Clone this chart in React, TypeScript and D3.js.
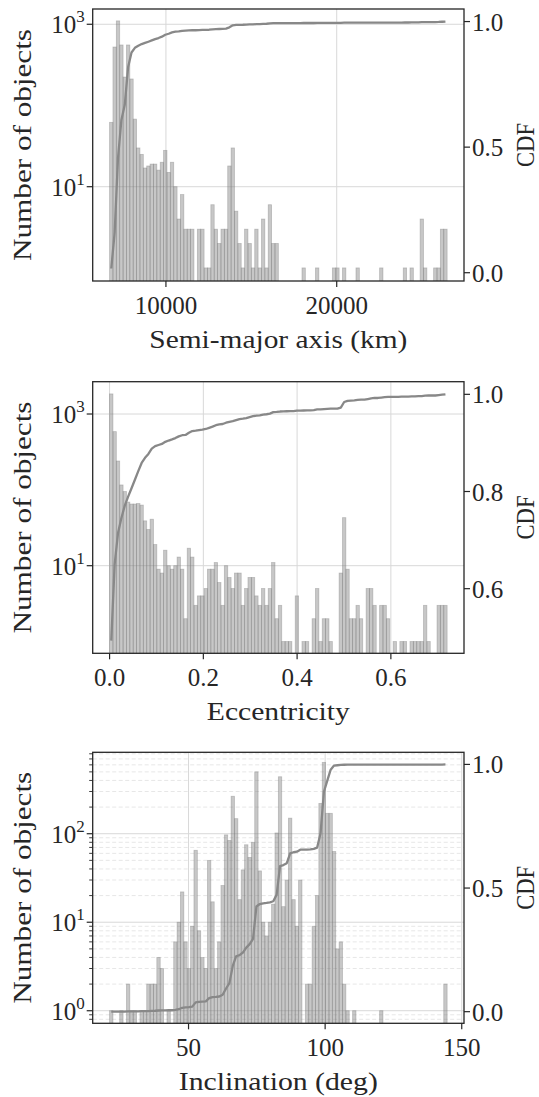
import React from "react";
import * as d3 from "d3";

// ---------- DATA ----------
const semiMajorCounts = [
  62, 525, 1100, 556, 224, 556, 212, 68, 30, 25,
  17, 18, 19, 19, 16, 20, 28, 15, 20, 10,
  4, 8, 3, 3, 3, 0, 3, 3, 1, 1,
  6, 3, 2, 3, 3, 18, 30, 5, 2, 1,
  3, 2, 1, 3, 1, 4, 1, 6, 2, 2,
  0, 0, 0, 0, 0, 0, 0, 1, 0, 0,
  0, 1, 0, 0, 0, 0, 1, 1, 0, 1,
  0, 0, 0, 1, 0, 0, 0, 0, 0, 0,
  1, 0, 0, 0, 0, 0, 0, 1, 0, 1,
  0, 0, 4, 1, 0, 0, 1, 1, 3, 3,
];
const semiMajorRange = [6700, 26465];
const semiMajorTicks = [10000, 20000];

const eccCounts = [
  1840, 586, 240, 116, 95, 69, 65, 65, 66, 63,
  39, 30, 41, 19, 9, 8, 16, 10, 9, 10,
  13, 9, 2, 17, 13, 3, 4, 4, 5, 9,
  9, 11, 6, 3, 10, 7, 5, 8, 8, 3,
  5, 7, 7, 4, 3, 5, 3, 5, 11, 2,
  3, 1, 1, 1, 0, 4, 0, 1, 1, 0,
  2, 5, 1, 2, 2, 1, 0, 0, 8, 43,
  9, 2, 2, 3, 2, 0, 5, 5, 3, 0,
  3, 3, 2, 0, 1, 0, 1, 1, 0, 1,
  1, 1, 1, 3, 1, 0, 0, 3, 3, 3,
];
const eccRange = [0.0, 0.72];
const eccTicks = [0, 0.2, 0.4, 0.6];

const inclCounts = [
  1, 0, 0, 1, 0, 2, 1, 1, 0, 1,
  1, 2, 2, 2, 4, 3, 0, 1, 0, 6,
  10, 22, 6, 3, 9, 65, 8, 4, 3, 50,
  17, 3, 6, 26, 97, 84, 265, 148, 18, 39,
  75, 54, 80, 500, 38, 10, 7, 10, 16, 102,
  440, 15, 30, 150, 18, 9, 30, 0, 2, 2,
  9, 20, 220, 640, 170, 170, 63, 5, 6, 2,
  1, 0, 1, 0, 0, 0, 0, 0, 0, 0,
  1, 0, 0, 0, 0, 0, 0, 0, 0, 0,
  0, 0, 0, 0, 0, 0, 0, 0, 0, 2,
];
const inclRange = [21.1, 144.65];
const inclTicks = [50, 100, 150];

const cdfTicksA = [0.0, 0.5, 1.0];
const cdfTicksB = [0.6, 0.8, 1.0];

// ---------- STYLE ----------
const FONT = "'Liberation Serif', 'DejaVu Serif', serif";
const L = 92.7;
const R = 464;
const TXT = "#262626";

type PanelProps = {
  id: string;
  top: number;
  bottom: number;
  counts: number[];
  range: number[];
  xTicks: number[];
  xFmt: (v: number) => string;
  xLabel: string;
  xLabelLen: number;
  logLo: number;
  logHi: number;
  majorExps: number[];
  minor: boolean;
  cdfLo: number;
  cdfHi: number;
  cdfTicks: number[];
};

function Panel(p: PanelProps) {
  const { id, top, bottom, counts, range, xTicks, xFmt, xLabel, xLabelLen, logLo, logHi, majorExps, minor, cdfLo, cdfHi, cdfTicks } = p;
  const span = range[1] - range[0];
  const x = d3.scaleLinear().domain([range[0] - 0.05 * span, range[1] + 0.05 * span]).range([L, R]);
  const y = d3.scaleLog().domain([Math.pow(10, logLo), Math.pow(10, logHi)]).range([bottom, top]);
  const yc = d3.scaleLinear().domain([cdfLo, cdfHi]).range([bottom, top]);
  const n = counts.length;
  const w = span / n;
  const total = d3.sum(counts);
  const cum = Array.from(d3.cumsum(counts));
  const pts: [number, number][] = counts.map((c, i) => [x(range[0] + (i + 0.5) * w), yc(cum[i] / total)]);
  const linePath = d3.line()(pts) || "";
  const midY = (top + bottom) / 2;

  const minorVals: number[] = [];
  if (minor) {
    for (let k = -1; k <= 3; k++) {
      for (let m = 2; m <= 9; m++) {
        const v = m * Math.pow(10, k);
        if (v > Math.pow(10, logLo) && v < Math.pow(10, logHi)) minorVals.push(v);
      }
    }
  }

  return (
    <g>
      <defs>
        <clipPath id={id}>
          <rect x={L} y={top} width={R - L} height={bottom - top} />
        </clipPath>
      </defs>
      {/* grid */}
      {minorVals.map((v, i) => (
        <line key={"mg" + i} x1={L} x2={R} y1={y(v)} y2={y(v)} stroke="#e4e4e4" strokeWidth={0.9} strokeDasharray="4,2.5" />
      ))}
      {majorExps.map((e) => (
        <line key={"gy" + e} x1={L} x2={R} y1={y(Math.pow(10, e))} y2={y(Math.pow(10, e))} stroke="#d8d8d8" strokeWidth={1} />
      ))}
      {xTicks.map((t) => (
        <line key={"gx" + t} x1={x(t)} x2={x(t)} y1={top} y2={bottom} stroke="#d8d8d8" strokeWidth={1} />
      ))}
      {/* bars */}
      <g clipPath={`url(#${id})`}>
        {counts.map((c, i) =>
          c > 0 ? (
            <rect
              key={"b" + i}
              x={x(range[0] + i * w)}
              width={x(range[0] + (i + 1) * w) - x(range[0] + i * w)}
              y={y(c)}
              height={bottom + 2 - y(c)}
              fill="#7a7a7a"
              fillOpacity={0.42}
              stroke="#7a7a7a"
              strokeOpacity={0.4}
              strokeWidth={0.8}
            />
          ) : null
        )}
        <path d={linePath} fill="none" stroke="#888888" strokeWidth={2.3} strokeLinejoin="round" />
      </g>
      {/* spines */}
      <rect x={L} y={top} width={R - L} height={bottom - top} fill="none" stroke="#262626" strokeWidth={1.3} />
      {/* x ticks */}
      {xTicks.map((t) => (
        <g key={"xt" + t}>
          <line x1={x(t)} x2={x(t)} y1={bottom} y2={bottom + 6} stroke="#262626" strokeWidth={1.2} />
          <text x={x(t)} y={bottom + 33} textAnchor="middle" fontSize={25} fontFamily={FONT} fill={TXT}>
            {xFmt(t)}
          </text>
        </g>
      ))}
      <text x={(L + R) / 2} y={bottom + 67} textAnchor="middle" fontSize={25} fontFamily={FONT} fill={TXT} textLength={xLabelLen} lengthAdjust="spacingAndGlyphs">
        {xLabel}
      </text>
      {/* left log ticks */}
      {minorVals.map((v, i) => (
        <line key={"mt" + i} x1={L - 3.5} x2={L} y1={y(v)} y2={y(v)} stroke="#262626" strokeWidth={0.9} />
      ))}
      {majorExps.map((e) => (
        <g key={"yt" + e}>
          <line x1={L - 6} x2={L} y1={y(Math.pow(10, e))} y2={y(Math.pow(10, e))} stroke="#262626" strokeWidth={1.2} />
          <text x={L - 8} y={y(Math.pow(10, e)) + 9} textAnchor="end" fontSize={25} fontFamily={FONT} fill={TXT}>
            10
            <tspan dy={-11} fontSize={17}>
              {String(e)}
            </tspan>
          </text>
        </g>
      ))}
      <text
        transform={`translate(31,${midY}) rotate(-90)`}
        textAnchor="middle"
        fontSize={25}
        fontFamily={FONT}
        fill={TXT}
        textLength={232}
        lengthAdjust="spacingAndGlyphs"
      >
        Number of objects
      </text>
      {/* right cdf ticks */}
      {cdfTicks.map((t) => (
        <g key={"ct" + t}>
          <line x1={R} x2={R + 6} y1={yc(t)} y2={yc(t)} stroke="#262626" strokeWidth={1.2} />
          <text x={R + 8} y={yc(t) + 9} textAnchor="start" fontSize={25} fontFamily={FONT} fill={TXT}>
            {t.toFixed(1)}
          </text>
        </g>
      ))}
      <text
        transform={`translate(534,${midY}) rotate(-90)`}
        textAnchor="middle"
        fontSize={25}
        fontFamily={FONT}
        fill={TXT}
        textLength={44}
        lengthAdjust="spacingAndGlyphs"
      >
        CDF
      </text>
    </g>
  );
}

export default function App() {
  return (
    <svg width={539} height={1097} style={{ position: "absolute", left: 0, top: 0, background: "#fff" }}>
      <rect x={0} y={0} width={539} height={1097} fill="#fff" />
      <Panel
        id="c1"
        top={9}
        bottom={281}
        counts={semiMajorCounts}
        range={semiMajorRange}
        xTicks={semiMajorTicks}
        xFmt={(v) => String(v)}
        xLabel="Semi-major axis (km)"
        xLabelLen={258}
        logLo={-0.161}
        logHi={3.188}
        majorExps={[1, 3]}
        minor={false}
        cdfLo={-0.033}
        cdfHi={1.05}
        cdfTicks={cdfTicksA}
      />
      <Panel
        id="c2"
        top={381.7}
        bottom={653.3}
        counts={eccCounts}
        range={eccRange}
        xTicks={eccTicks}
        xFmt={(v) => v.toFixed(1)}
        xLabel="Eccentricity"
        xLabelLen={143}
        logLo={-0.155}
        logHi={3.426}
        majorExps={[1, 3]}
        minor={false}
        cdfLo={0.467}
        cdfHi={1.026}
        cdfTicks={cdfTicksB}
      />
      <Panel
        id="c3"
        top={752.3}
        bottom={1023.3}
        counts={inclCounts}
        range={inclRange}
        xTicks={inclTicks}
        xFmt={(v) => String(v)}
        xLabel="Inclination (deg)"
        xLabelLen={199}
        logLo={-0.142}
        logHi={2.92}
        majorExps={[0, 1, 2]}
        minor={true}
        cdfLo={-0.047}
        cdfHi={1.049}
        cdfTicks={cdfTicksA}
      />
    </svg>
  );
}
